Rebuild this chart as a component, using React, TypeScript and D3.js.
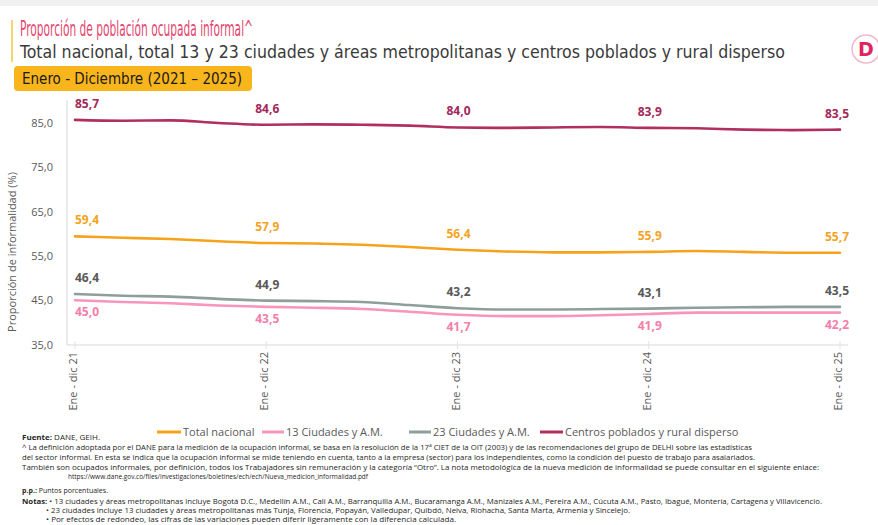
import React from "react";
import * as d3 from "d3";

// Quarterly reading of the rolling 12-month series (Ene-dic 21 ... Ene-dic 25)
const xTickLabels = ["Ene - dic 21", "Ene - dic 22", "Ene - dic 23", "Ene - dic 24", "Ene - dic 25"];
const labelIdx = [0, 4, 8, 12, 16];

const totalNacional = [59.4, 59.1, 58.8, 58.3, 57.9, 57.8, 57.5, 57.0, 56.4, 56.0, 55.8, 55.8, 55.9, 56.1, 55.9, 55.7, 55.7];
const ciudades13 = [45.0, 44.6, 44.3, 43.8, 43.5, 43.3, 43.0, 42.4, 41.7, 41.4, 41.4, 41.6, 41.9, 42.2, 42.2, 42.2, 42.2];
const ciudades23 = [46.4, 46.0, 45.8, 45.3, 44.9, 44.8, 44.6, 43.9, 43.2, 42.9, 42.9, 43.0, 43.1, 43.3, 43.4, 43.5, 43.5];
const centrosPoblados = [85.7, 85.5, 85.6, 85.0, 84.6, 84.7, 84.6, 84.4, 84.0, 83.9, 84.0, 84.1, 83.9, 83.8, 83.5, 83.4, 83.5];

const yTicks = [35, 45, 55, 65, 75, 85];

const seriesNames = ["Total nacional", "13 Ciudades y A.M.", "23 Ciudades y A.M.", "Centros poblados y rural disperso"];

const FONT = "'DejaVu Sans Condensed', 'Open Sans', sans-serif";
const FONT2 = "'Open Sans', sans-serif";

export default function App() {
  const W = 878, H = 525;
  const x = d3.scaleLinear().domain([0, 16]).range([75, 840]);
  const y = d3.scaleLinear().domain([35, 85]).range([344.5, 123]);
  const line = d3.line<number>().x((_, i) => x(i)).y((d) => y(d)).curve(d3.curveMonotoneX);

  const series = [
    { name: seriesNames[0], data: totalNacional, color: "#F7A21B", label: "#F5A31E", pos: "above" },
    { name: seriesNames[1], data: ciudades13, color: "#F795BA", label: "#F47EAA", pos: "below" },
    { name: seriesNames[2], data: ciudades23, color: "#8E9E9B", label: "#595959", pos: "above" },
    { name: seriesNames[3], data: centrosPoblados, color: "#B02F5E", label: "#A3285A", pos: "above" },
  ];
  const fmt = (v: number) => v.toFixed(1).replace(".", ",");

  const legendItems = [
    { x: 157, w: 24 },
    { x: 262, w: 22 },
    { x: 409, w: 22 },
    { x: 540, w: 23 },
  ];

  const foot = [
    { x: 22, y: 440, w: 78, b: "Fuente:", t: " DANE, GEIH." },
    { x: 22, y: 450, w: 730, b: "", t: "^ La definición adoptada por el DANE para la medición de la ocupación informal, se basa en la resolución de la 17ª CIET de la OIT (2003) y de las recomendaciones del grupo de DELHI sobre las estadísticas" },
    { x: 22, y: 460, w: 733, b: "", t: "del sector informal. En esta se indica que la ocupación informal se mide teniendo en cuenta, tanto a la empresa (sector) para los independientes, como la condición del puesto de trabajo para asalariados." },
    { x: 22, y: 470, w: 797, b: "", t: "También son ocupados informales, por definición,  todos los Trabajadores sin remuneración y la categoría “Otro”.  La nota metodológica de la nueva medición de informalidad se puede consultar en el siguiente enlace:" },
    { x: 68, y: 479, w: 300, b: "", t: "https://www.dane.gov.co/files/investigaciones/boletines/ech/ech/Nueva_medicion_informalidad.pdf" },
    { x: 22, y: 493, w: 86, b: "p.p.:", t: " Puntos porcentuales." },
    { x: 22, y: 504, w: 800, b: "Notas:", t: " • 13 ciudades y áreas metropolitanas incluye Bogotá D.C., Medellín A.M., Cali A.M., Barranquilla A.M., Bucaramanga A.M., Manizales A.M., Pereira A.M., Cúcuta A.M., Pasto, Ibagué, Montería, Cartagena y Villavicencio." },
    { x: 46, y: 513, w: 584, b: "", t: "• 23 ciudades incluye 13 ciudades y áreas metropolitanas más Tunja, Florencia, Popayán, Valledupar, Quibdó, Neiva, Riohacha, Santa Marta, Armenia y Sincelejo." },
    { x: 46, y: 522, w: 410, b: "", t: "• Por efectos de redondeo, las cifras de las variaciones pueden diferir ligeramente con la diferencia calculada." },
  ];

  return (
    <svg width={W} height={H} style={{ position: "absolute", left: 0, top: 0, background: "#fff" }} fontFamily={FONT2}>
      <rect x={0} y={0} width={W} height={6} fill="#f1f1f1" />
      {/* header */}
      <rect x={11} y={20} width={2} height={42} fill="#F6D66B" />
      <text x={20} y={36} fontSize={21} fill="#E5466F" fontFamily={FONT} textLength={233} lengthAdjust="spacingAndGlyphs">Proporción de población ocupada informal^</text>
      <text x={20} y={58} fontSize={17} fill="#3a3a3a" fontFamily={FONT} textLength={765} lengthAdjust="spacingAndGlyphs">Total nacional, total 13 y 23 ciudades y áreas metropolitanas y centros poblados y rural disperso</text>
      <rect x={14} y={66} width={238} height={25} rx={4} fill="#F9B51C" />
      <text x={22} y={84} fontSize={15} fill="#1a1a1a" fontFamily={FONT} textLength={220} lengthAdjust="spacingAndGlyphs">Enero - Diciembre (2021 – 2025)</text>
      {/* logo */}
      <circle cx={866} cy={49} r={14} fill="#fff" stroke="#F3B9C9" strokeWidth={1.5} />
      <text x={866} y={56} fontSize={19} fontWeight="bold" fill="#E0245E" textAnchor="middle" fontFamily="'DejaVu Sans', sans-serif">D</text>

      {/* axes */}
      <line x1={67} x2={67} y1={100} y2={345} stroke="#d9d9d9" strokeWidth={1} />
      <line x1={67} x2={848} y1={345} y2={345} stroke="#d9d9d9" strokeWidth={1} />
      {labelIdx.map((li) => (
        <line key={"t" + li} x1={x(li)} x2={x(li)} y1={341} y2={349} stroke="#e3e3e3" />
      ))}
      {yTicks.map((t) => (
        <text key={t} x={53} y={y(t) + 4} fontSize={11} fill="#595959" textAnchor="end">{fmt(t)}</text>
      ))}
      <text transform="translate(16,252) rotate(-90)" fontSize={11} fill="#595959" textAnchor="middle">Proporción de informalidad (%)</text>
      {labelIdx.map((li, k) => (
        <text key={"x" + li} transform={`translate(${x(li) + 2},352) rotate(-90)`} fontSize={11} fill="#595959" textAnchor="end">{xTickLabels[k]}</text>
      ))}

      {/* lines */}
      {series.map((s) => (
        <path key={s.name} d={line(s.data) || ""} fill="none" stroke={s.color} strokeWidth={2.6} strokeLinejoin="round" strokeLinecap="round" />
      ))}
      {/* data labels */}
      {series.map((s) =>
        labelIdx.map((li, k) => {
          const v = s.data[li];
          const px = k === 0 ? x(li) : k === labelIdx.length - 1 ? x(li) - 3 : x(li) + 1;
          const anchor = k === 0 ? "start" : "middle";
          const py = s.pos === "above" ? y(v) - 12 : y(v) + 16;
          return (
            <text key={s.name + li} x={px} y={py} fontSize={12} fontWeight="bold" fill={s.label} textAnchor={anchor}>{fmt(v)}</text>
          );
        })
      )}

      {/* legend */}
      {series.map((s, i) => (
        <g key={"lg" + i}>
          <line x1={legendItems[i].x} x2={legendItems[i].x + legendItems[i].w} y1={432} y2={432} stroke={s.color} strokeWidth={3} />
          <text x={legendItems[i].x + legendItems[i].w + 2} y={436} fontSize={11} fill="#595959">{s.name}</text>
        </g>
      ))}

      {/* footnotes */}
      {foot.map((f, i) => (
        <text key={"f" + i} x={f.x} y={f.y} fontSize={7.5} fill="#262626" textLength={f.w} lengthAdjust="spacingAndGlyphs">
          {f.b ? <tspan fontWeight="bold">{f.b}</tspan> : null}
          {f.t}
        </text>
      ))}
    </svg>
  );
}
